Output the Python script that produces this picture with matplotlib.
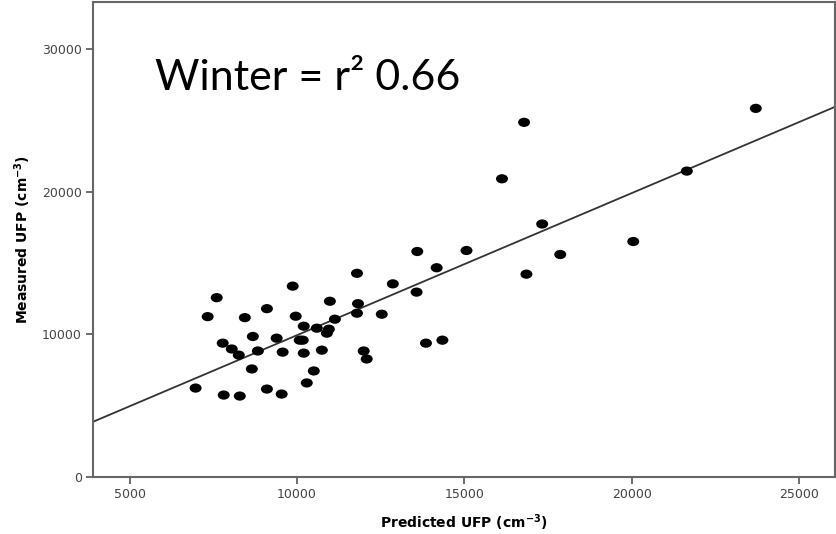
import matplotlib
matplotlib.use("Agg")
import matplotlib.pyplot as plt
from matplotlib.markers import MarkerStyle
from matplotlib.transforms import Affine2D
import numpy as np

predicted = [6970, 7330, 7600, 7780, 8050, 8260, 7810, 8290, 8440, 8680,
             8830, 8650, 9100, 9100, 9390, 9570, 9540, 9870, 9960, 10080,
             10170, 10200, 10200, 10290, 10500, 10590, 10740, 10890, 10950, 10980,
             11130, 11790, 11820, 11790, 11990, 12080, 12530, 12860, 13570, 13590,
             14170, 13850, 14340, 15060, 16120, 16780, 16850, 17320, 17860, 20040,
             21640, 23700]
measured = [6240, 11250, 12580, 9390, 8980, 8550, 5750, 5680, 11180, 9860,
            8840, 7580, 11810, 6170, 9740, 8760, 5820, 13390, 11280, 9600,
            9600, 10580, 8690, 6600, 7440, 10440, 8900, 10090, 10370, 12330,
            11070, 14290, 12160, 11490, 8840, 8280, 11420, 13550, 12970, 15820,
            14680, 9390, 9600, 15890, 20920, 24880, 14230, 17750, 15610, 16520,
            21460, 25860]

fit_intercept = -20.0
fit_slope = 0.997

xticks = [5000, 10000, 15000, 20000, 25000]
yticks = [0, 10000, 20000, 30000]
xlim = (3900, 26070)
ylim = (0, 33300)

fig = plt.figure(figsize=(8.36, 5.34), dpi=100)
ax = fig.add_axes([0.111, 0.1067, 0.888, 0.889])

xs = np.array(xlim)
ax.plot(xs, fit_intercept + fit_slope * xs, color="#333333", lw=1.3, zorder=2)

mk = MarkerStyle("o", transform=Affine2D().scale(1.3, 1.0))
ax.scatter(predicted, measured, marker=mk, s=44, color="black", edgecolors="none", zorder=3)

ax.set_xlim(*xlim)
ax.set_ylim(*ylim)
ax.set_xticks(xticks)
ax.set_yticks(yticks)
ax.set_xticklabels([str(v) for v in xticks])
ax.set_yticklabels([str(v) for v in yticks])
ax.tick_params(direction="out", length=5, width=1.2, color="#555555",
               labelsize=9, labelcolor="#444444", pad=3)
for s in ax.spines.values():
    s.set_color("#666666")
    s.set_linewidth(1.5)

ax.set_xlabel(r"Predicted UFP (cm$^{\mathbf{-3}}$)", fontsize=10, fontweight="bold", labelpad=8)
ax.set_ylabel(r"Measured UFP (cm$^{\mathbf{-3}}$)", fontsize=10, fontweight="bold", labelpad=6)

fig.text(0.185, 0.831, "Winter = r² 0.66", fontsize=31, family="Lato",
         ha="left", va="baseline", color="black")

fig.savefig("out.png", dpi=100)
